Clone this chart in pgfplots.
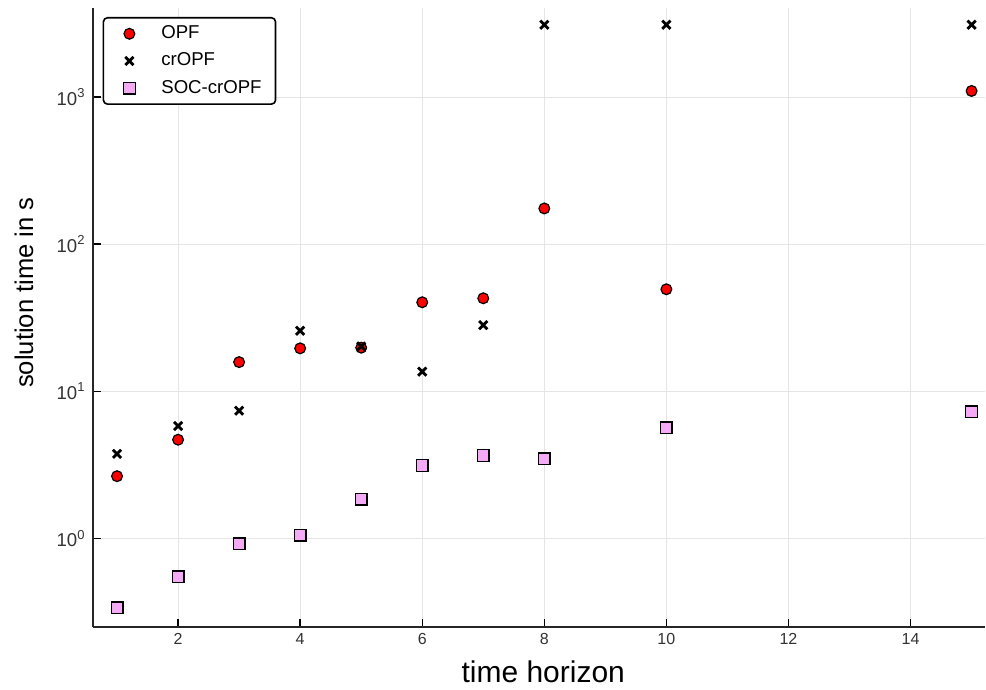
\documentclass[border=0pt]{standalone}
\usepackage{pgfplots}
\pgfplotsset{compat=1.18}
\usepackage{fontspec}
\setmainfont{Liberation Sans}
\definecolor{socpink}{RGB}{245,170,245}
\begin{document}
\begin{tikzpicture}
\begin{axis}[
  scale only axis, width=446.5pt, height=309.5pt,
  ymode=log, xmin=0.6, xmax=15.22, ymin=0.252, ymax=4030,
  axis x line=bottom, axis y line=left,
  axis line style={-, line width=1pt, black!85},
  tick align=inside, major tick length=4pt,
  tick style={black, line width=0.7pt},
  xtick={2,4,...,14}, ytick={1,10,100,1000},
  yticklabels={10\textsuperscript{0},10\textsuperscript{1},10\textsuperscript{2},10\textsuperscript{3}},
  yminorticks=false, xminorticks=false,
  grid=major, grid style={black!10, line width=0.4pt},
  xlabel={time horizon}, ylabel={solution time in s},
  xlabel style={font=\fontsize{15}{15}\selectfont, at={(axis description cs:0.505,0)}, anchor=center, yshift=-22.5pt},
  ylabel style={font=\fontsize{12.8}{12.8}\selectfont, at={(axis description cs:-0.077,0.54)}, anchor=center},
  xticklabel style={font=\fontsize{8}{8}\selectfont, text=black!80},
  yticklabel style={font=\fontsize{9.3}{9.3}\selectfont, text=black!80},
  /pgf/number format/assume math mode=true,
  legend image code/.code={\path[draw=none, fill=none] (0pt,0pt) -- (22pt,0pt); \draw[#1, draw=none] plot coordinates {(8pt,0pt)};},
  legend style={at={(0,1)}, anchor=north west, xshift=5pt, yshift=-4.5pt,
    rounded corners=2pt, draw=black, line width=0.8pt,
    font=\fontsize{9.3}{10}\selectfont, row sep=1.6pt, inner xsep=5pt, inner ysep=2pt},
  legend cell align=left,
  clip=false,
]
\addplot[only marks, mark=*, mark size=2.7pt, mark options={fill=red, draw=black, line width=0.6pt}]
  coordinates {(1,2.65)(2,4.69)(3,15.8)(4,19.6)(5,19.8)(6,40.3)(7,42.9)(8,175)(10,49.4)(15,1100)};
\addlegendentry{OPF}
\addplot[only marks, mark=x, mark size=2.9pt, mark options={draw=black, line width=1.4pt}]
  coordinates {(1,3.76)(2,5.81)(3,7.39)(4,25.8)(5,20.2)(6,13.6)(7,28.2)(8,3100)(10,3100)(15,3100)};
\addlegendentry{crOPF}
\addplot[only marks, mark=square*, mark size=2.9pt, mark options={fill=socpink, draw=black, line width=0.7pt}]
  coordinates {(1,0.338)(2,0.55)(3,0.92)(4,1.05)(5,1.85)(6,3.13)(7,3.66)(8,3.47)(10,5.66)(15,7.28)};
\addlegendentry{SOC-crOPF}
\path[use as bounding box] (rel axis cs:0,0) ++(-46.35pt,-29.5pt) rectangle (rel axis cs:1,1) ++(0.5pt,4pt);
\end{axis}
\end{tikzpicture}
\end{document}
